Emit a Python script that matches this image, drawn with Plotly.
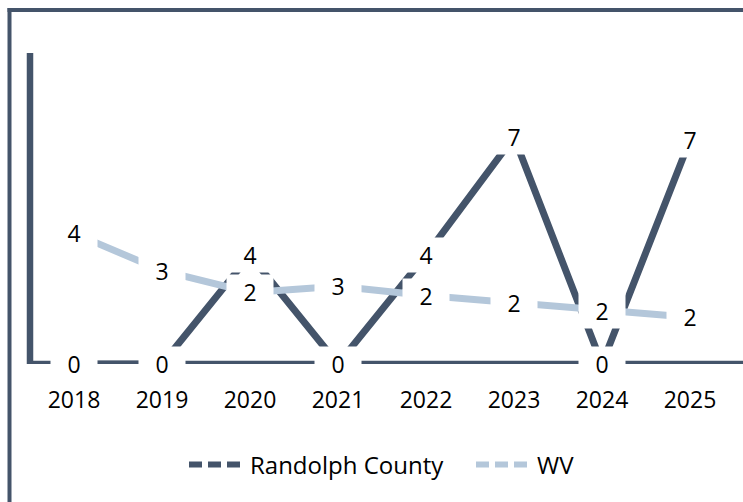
import math
import plotly.graph_objects as go

years = ["2018", "2019", "2020", "2021", "2022", "2023", "2024", "2025"]
randolph = [0, 0, 3.5, 0, 3.5, 7.3, 0, 7.2]
wv = [4.2, 3.0, 2.3, 2.5, 2.2, 1.95, 1.7, 1.5]

DARK = "#44546A"
LIGHT = "#B4C7DA"
FONT = "Open Sans"

W, H = 743, 502
ML, MR, MT, MB = 30, 9, 53, 138
PW = W - ML - MR
PH = H - MT - MB


def px_x(px):
    return (px - ML) / PW


def px_y(py):
    return (H - MB - py) / PH


def lab(v):
    return str(int(math.floor(v + 0.5)))


fig = go.Figure()
fig.add_trace(go.Scatter(x=years, y=randolph, mode="lines", showlegend=False,
                         line=dict(color=DARK, width=7), hoverinfo="skip"))
fig.add_trace(go.Scatter(x=years, y=wv, mode="lines", showlegend=False,
                         line=dict(color=LIGHT, width=7), hoverinfo="skip"))
# legend entries
fig.add_trace(go.Scatter(x=[None], y=[None], mode="lines", name="Randolph County",
                         legend="legend",
                         line=dict(color=DARK, width=6, dash="13px,6px")))
fig.add_trace(go.Scatter(x=[None], y=[None], mode="lines", name="WV",
                         legend="legend2",
                         line=dict(color=LIGHT, width=6, dash="13px,6px")))

annotations = []
for series in (randolph, wv):
    for i, v in enumerate(series):
        annotations.append(dict(
            x=i, y=v, xref="x", yref="y", text=lab(v), showarrow=False,
            xanchor="center", yanchor="middle", bgcolor="#ffffff",
            width=40, height=28, borderpad=3,
            font=dict(family=FONT, size=23, color="black")))

shapes = [
    # axis lines
    dict(type="line", xref="paper", yref="y", x0=px_x(27), x1=px_x(760), y0=0, y1=0,
         line=dict(color=DARK, width=6.5), layer="below"),
    dict(type="line", xref="paper", yref="y", x0=0, x1=0, y0=0, y1=10,
         line=dict(color=DARK, width=6.5), layer="below"),
    # outer frame (top and left edges)
    dict(type="line", xref="paper", yref="paper", x0=px_x(7.5), x1=px_x(760),
         y0=px_y(10), y1=px_y(10), line=dict(color=DARK, width=4), layer="below"),
    dict(type="line", xref="paper", yref="paper", x0=px_x(9.5), x1=px_x(9.5),
         y0=px_y(8), y1=px_y(520), line=dict(color=DARK, width=4), layer="below"),
]

legend_common = dict(orientation="h", xanchor="left", y=px_y(465), yanchor="middle",
                     font=dict(family=FONT, size=24, color="black"),
                     itemwidth=56, bgcolor="rgba(0,0,0,0)")

fig.update_layout(
    width=W, height=H,
    margin=dict(l=ML, r=MR, t=MT, b=MB, autoexpand=False),
    paper_bgcolor="white", plot_bgcolor="white",
    font=dict(family=FONT, size=23, color="black"),
    xaxis=dict(type="category", range=[-0.5, 7.5], showgrid=False, zeroline=False,
               showline=False, ticks="", ticklabelstandoff=20,
               tickfont=dict(family=FONT, size=23, color="black")),
    yaxis=dict(range=[0, 10], showgrid=False, zeroline=False, showline=False,
               showticklabels=False, ticks=""),
    showlegend=True,
    legend=dict(x=px_x(184), **legend_common),
    legend2=dict(x=px_x(471), **legend_common),
    annotations=annotations,
    shapes=shapes,
)

fig.write_html("out.html", config={"displayModeBar": False},
               post_script="document.body.style.margin='0';")
